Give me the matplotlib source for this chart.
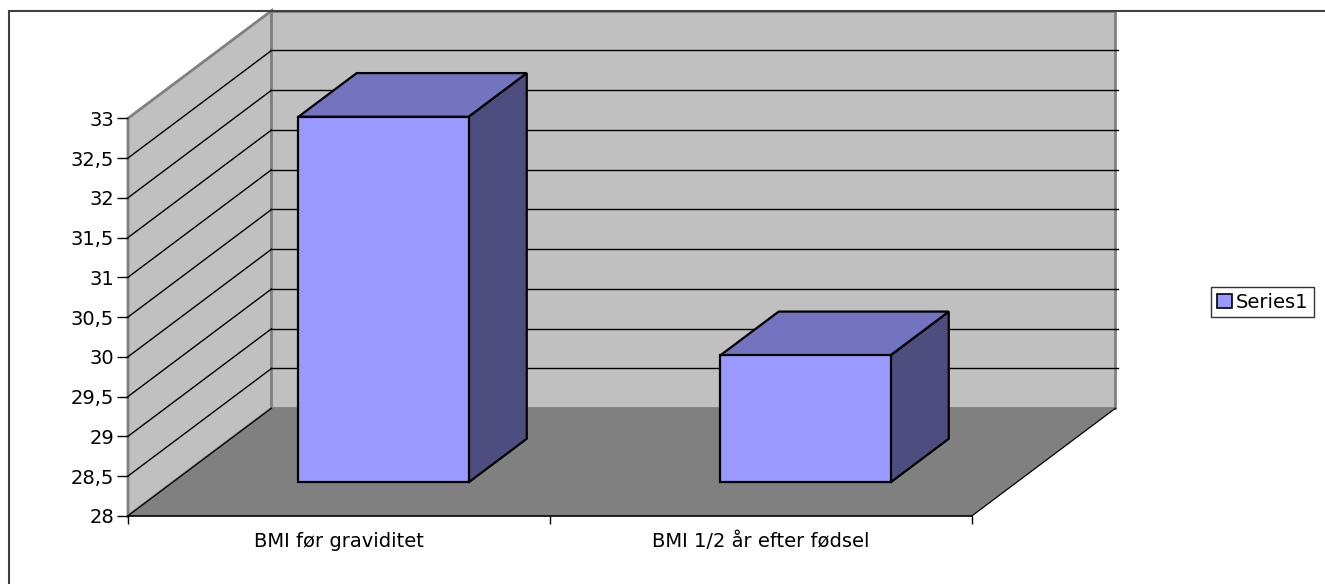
import numpy as np
import matplotlib
matplotlib.use("Agg")
import matplotlib.pyplot as plt
from matplotlib.patches import Polygon, Patch, Rectangle

# ---- data ----
categories = ["BMI før graviditet", "BMI 1/2 år efter fødsel"]
values = [32.6, 29.6]
series_name = "Series1"
y_min, y_max, y_step = 28.0, 33.0, 0.5

# oblique depth of the 3D box, in (category, value) units
DX, DY = 0.34, 1.353
BAR_W = 0.403           # bar width as fraction of a category
BAR_F0, BAR_F1 = 0.31, 0.716   # front / back of the bars as fraction of the depth

WALL = "#c0c0c0"
FLOOR = "#808080"
EDGE = "#808080"
FRONT = "#9999ff"
TOP = "#7373bf"
SIDE = "#4d4d80"
FS = 14

W, H = 1325, 584
fig = plt.figure(figsize=(W / 100, H / 100), dpi=100)
ax = fig.add_axes([128 / W, 68.2 / H, 844 / W, 397.5 / H])
n = len(categories)
ax.set_xlim(0, n)
ax.set_ylim(y_min, y_max)
for s in ax.spines.values():
    s.set_visible(False)
ax.patch.set_visible(False)


def poly(pts, **kw):
    p = Polygon(pts, closed=True, clip_on=False, **kw)
    ax.add_patch(p)
    return p


# walls and floor
poly([(0, y_min), (0, y_max), (DX, y_max + DY), (DX, y_min + DY)],
     fc=WALL, ec=EDGE, lw=2, zorder=1)
poly([(DX, y_min + DY), (n + DX, y_min + DY), (n + DX, y_max + DY), (DX, y_max + DY)],
     fc=WALL, ec=EDGE, lw=2, zorder=1)
poly([(0, y_min), (n, y_min), (n + DX, y_min + DY), (DX, y_min + DY)],
     fc=FLOOR, ec="none", zorder=2)

# gridlines on the side and back walls
for v in np.arange(y_min + y_step, y_max - 1e-9, y_step):
    ax.plot([0, DX], [v, v + DY], color="black", lw=1, zorder=3, clip_on=False)
    ax.plot([DX, n + DX + 0.005], [v + DY, v + DY], color="black", lw=1, zorder=3, clip_on=False)

# floor edges
ax.plot([0, n], [y_min, y_min], color="black", lw=1.2, zorder=3, clip_on=False)
ax.plot([0, DX], [y_min, y_min + DY], color="black", lw=0.9, zorder=3, clip_on=False)
ax.plot([n, n + DX], [y_min, y_min + DY], color="black", lw=0.9, zorder=3, clip_on=False)

# bars: side, top, front
ddx = (BAR_F1 - BAR_F0) * DX
ddy = (BAR_F1 - BAR_F0) * DY
for i, v in enumerate(values):
    x0 = i + 0.5 - BAR_W / 2 + BAR_F0 * DX
    x1 = x0 + BAR_W
    yb = y_min + BAR_F0 * DY
    yt = v + BAR_F0 * DY
    poly([(x1, yb), (x1 + ddx, yb + ddy), (x1 + ddx, yt + ddy), (x1, yt)],
         fc=SIDE, ec="black", lw=1.6, joinstyle="miter", zorder=5)
    poly([(x0, yt), (x1, yt), (x1 + ddx, yt + ddy), (x0 + ddx, yt + ddy)],
         fc=TOP, ec="black", lw=1.6, joinstyle="miter", zorder=5)
    poly([(x0, yb), (x1, yb), (x1, yt), (x0, yt)],
         fc=FRONT, ec="black", lw=1.6, joinstyle="miter", zorder=6)

# axes ticks and labels
yt_vals = np.arange(y_min, y_max + 1e-9, y_step)
ax.set_yticks(yt_vals)
ax.set_yticklabels([f"{t:g}".replace(".", ",") for t in yt_vals])
ax.tick_params(axis="y", length=8, width=1, color="black", pad=2, labelsize=FS)

ax.set_xticks(np.arange(0, n + 1))
ax.set_xticklabels([])
ax.tick_params(axis="x", which="major", length=6, width=1, color="black")
ax.set_xticks(np.arange(n) + 0.5, minor=True)
ax.set_xticklabels(categories, minor=True)
ax.tick_params(axis="x", which="minor", length=0, pad=11.5, labelsize=FS)

# legend
leg = fig.legend(handles=[Patch(fc=FRONT, ec="black", lw=1.2, label=series_name)],
                 loc="center left", bbox_to_anchor=(1211 / W, 1 - 302 / H),
                 fontsize=FS, frameon=True, fancybox=False, edgecolor="black",
                 handlelength=0.76, handleheight=0.76, handletextpad=0.2,
                 borderpad=0.3, borderaxespad=0)
leg.get_frame().set_linewidth(1)

# chart area border
fig.add_artist(Rectangle((9 / W, -0.5), 2, 1 - 11 / H + 0.5, transform=fig.transFigure,
                         fill=False, ec="#404040", lw=1.5))

fig.savefig("out.png", dpi=100, facecolor="white")
